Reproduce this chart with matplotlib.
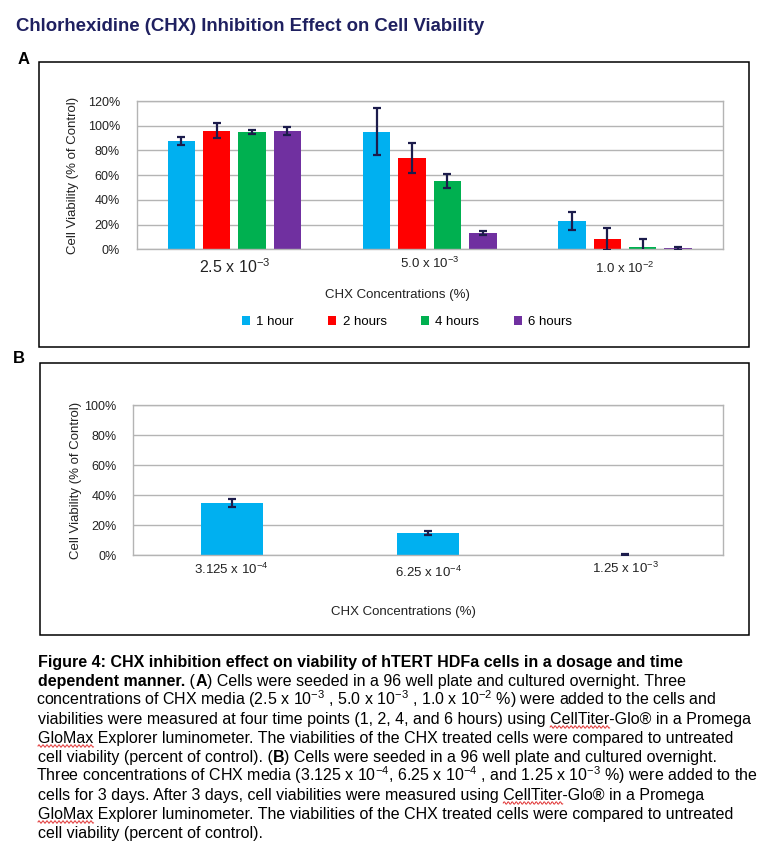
import matplotlib
matplotlib.use("Agg")
import matplotlib.pyplot as plt
from matplotlib.patches import Rectangle
from matplotlib.lines import Line2D
from matplotlib.transforms import IdentityTransform
from matplotlib.ticker import PercentFormatter
import numpy as np

# ---- data ----
conc_a = ["2.5 x 10$^{-3}$", "5.0 x 10$^{-3}$", "1.0 x 10$^{-2}$"]
hours = ["1 hour", "2 hours", "4 hours", "6 hours"]
viab_1h = [87.8, 95.1, 22.9]
viab_2h = [95.9, 74.0, 8.3]
viab_4h = [94.8, 55.4, 1.9]
viab_6h = [95.7, 13.2, 0.8]
err_1h = [3.0, 19.0, 7.0]
err_2h = [6.0, 12.3, 9.2]
err_4h = [1.5, 5.8, 6.4]
err_6h = [3.5, 1.7, 1.3]

conc_b = ["3.125 x 10$^{-4}$", "6.25 x 10$^{-4}$", "1.25 x 10$^{-3}$"]
viab_b = [34.9, 14.9, 0.4]
err_b = [2.4, 1.5, 0.2]

colors = ["#00B0F0", "#FF0000", "#00B050", "#7030A0"]
err_color = "#1C1C4C"
grid_color = "#B4B4B4"

W, H = 779, 863
plt.rcParams["font.family"] = ["Liberation Sans", "DejaVu Sans"]
plt.rcParams["mathtext.fontset"] = "custom"
plt.rcParams["mathtext.rm"] = "Liberation Sans"
plt.rcParams["mathtext.it"] = "Liberation Sans:italic"
plt.rcParams["mathtext.bf"] = "Liberation Sans:bold"

fig = plt.figure(figsize=(W / 100, H / 100), dpi=100)
px = IdentityTransform()


def fx(x):
    return x / W


def fy(y):
    return 1 - y / H


# title and panel letters
fig.text(fx(16), fy(31), "Chlorhexidine (CHX) Inhibition Effect on Cell Viability",
         fontsize=13.4, fontweight="bold", color="#1F2060", va="baseline")
fig.text(fx(18), fy(64), "A", fontsize=12, fontweight="bold", va="baseline")
fig.text(fx(13), fy(363), "B", fontsize=12, fontweight="bold", va="baseline")

# panel frames
fig.add_artist(Rectangle((fx(39.3), fy(347)), fx(749.3) - fx(39.3), fy(61.7) - fy(347),
                         transform=fig.transFigure, fill=False, ec="black", lw=1.1))
fig.add_artist(Rectangle((fx(40), fy(635.3)), fx(749.3) - fx(40), fy(362.7) - fy(635.3),
                         transform=fig.transFigure, fill=False, ec="black", lw=1.1))


def style_axes(ax, top):
    ax.set_ylim(0, top)
    ax.set_xlim(-0.5, 2.5)
    ax.yaxis.set_major_formatter(PercentFormatter(decimals=0))
    ax.set_yticks(np.arange(0, top + 1, 20))
    ax.grid(axis="y", color=grid_color, lw=1)
    ax.set_axisbelow(True)
    for s in ax.spines.values():
        s.set_color(grid_color)
        s.set_linewidth(1)
    ax.tick_params(length=0, labelsize=9, colors="#222222")
    ax.tick_params(axis="y", pad=12)
    ax.set_ylabel("Cell Viability (% of Control)", fontsize=9.5, color="#222222")


# ---- panel A ----
axA = fig.add_axes([fx(136.7), fy(249.3), fx(722.7) - fx(136.7), fy(101) - fy(249.3)])
x = np.arange(len(conc_a))
bw = 0.141
step = 0.181
series = [viab_1h, viab_2h, viab_4h, viab_6h]
errs = [err_1h, err_2h, err_4h, err_6h]
handles = []
for i, (v, e) in enumerate(zip(series, errs)):
    xs = x + (i - 1.5) * step
    b = axA.bar(xs, v, bw, color=colors[i], label=hours[i], zorder=2)
    axA.errorbar(xs, v, yerr=e, fmt="none", ecolor=err_color, elinewidth=1.6,
                 capsize=2.8, capthick=1.6, zorder=3)
    handles.append(b)
style_axes(axA, 120)
axA.yaxis.set_label_coords(-0.098, 0.5)
axA.set_xticks(x)
axA.set_xticklabels(conc_a)
axA.tick_params(axis="x", pad=6)
for lab, fs, dy in zip(axA.get_xticklabels(), [11.5, 9.5, 9.5], [0.0, 0.01, -0.02]):
    lab.set_fontsize(fs)
    lab.set_y(dy)
axA.set_xlabel("CHX Concentrations (%)", fontsize=9.5, color="#222222")
axA.xaxis.set_label_coords(0.445, -0.27)
fig.legend(handles=handles, labels=hours, loc="center", ncol=4,
           bbox_to_anchor=(fx(407), fy(322)), frameon=False, fontsize=9.5,
           handlelength=0.6, handleheight=0.6, handletextpad=0.5,
           columnspacing=2.6)

# ---- panel B ----
axB = fig.add_axes([fx(133.3), fy(555.3), fx(723.3) - fx(133.3), fy(405.3) - fy(555.3)])
axB.bar(x, viab_b, 0.314, color=colors[0], zorder=2)
axB.errorbar(x, viab_b, yerr=err_b, fmt="none", ecolor=err_color, elinewidth=1.6,
             capsize=2.8, capthick=1.6, zorder=3)
style_axes(axB, 100)
axB.yaxis.set_label_coords(-0.087, 0.5)
axB.set_xticks(x)
axB.set_xticklabels(conc_b, fontsize=9.5)
axB.tick_params(axis="x", pad=5)
for lab, dy in zip(axB.get_xticklabels(), [0.0, -0.02, 0.007]):
    lab.set_y(dy)
axB.set_xlabel("CHX Concentrations (%)", fontsize=9.5, color="#222222")
axB.xaxis.set_label_coords(0.458, -0.34)

# ---- caption ----
renderer = fig.canvas.get_renderer()
cap_fs = 11.5


def text_width(s, bold):
    t = fig.text(0, 0, s + "|", transform=px, fontsize=cap_fs,
                 fontweight="bold" if bold else "normal")
    w1 = t.get_window_extent(renderer).width
    t.set_text("|")
    w2 = t.get_window_extent(renderer).width
    t.remove()
    return w1 - w2


def squiggle(x0, x1, ybase):
    xs = np.arange(x0, x1 + 0.5, 0.5)
    ys = (H - ybase - 3) + 1.2 * np.sin((xs - x0) * np.pi / 2)
    fig.add_artist(Line2D(xs, ys, transform=px, color="#E03030", lw=0.7))


def caption_line(y, runs, marks=()):
    xpos = 38
    full = ""
    for s, bold in runs:
        # mathtext strings get a small left bearing; pull them back
        shift = 1.5 if "$" in s else 0
        fig.text(xpos - shift, H - y, s, transform=px, fontsize=cap_fs,
                 fontweight="bold" if bold else "normal", va="baseline")
        xpos += text_width(s, bold)
        full += s
    for word in marks:
        i = full.index(word)
        x0 = 38 + text_width(full[:i], False)
        squiggle(x0, x0 + text_width(word, False), y)


caption = [
    [("Figure 4: CHX inhibition effect on viability of hTERT HDFa cells in a dosage and time", True)],
    [("dependent manner.", True), (" (", False), ("A", True),
     (") Cells were seeded in a 96 well plate and cultured overnight. Three", False)],
    [("concentrations of CHX media (2.5 x 10$^{-3}$ , 5.0 x 10$^{-3}$ , 1.0 x 10$^{-2}$ %) were added to the cells and", False)],
    [("viabilities were measured at four time points (1, 2, 4, and 6 hours) using CellTiter-Glo\u00ae in a Promega", False)],
    [("GloMax Explorer luminometer. The viabilities of the CHX treated cells were compared to untreated", False)],
    [("cell viability (percent of control). (", False), ("B", True),
     (") Cells were seeded in a 96 well plate and cultured overnight.", False)],
    [("Three concentrations of CHX media (3.125 x 10$^{-4}$, 6.25 x 10$^{-4}$ , and 1.25 x 10$^{-3}$ %) were added to the", False)],
    [("cells for 3 days. After 3 days, cell viabilities were measured using CellTiter-Glo\u00ae in a Promega", False)],
    [("GloMax Explorer luminometer. The viabilities of the CHX treated cells were compared to untreated", False)],
    [("cell viability (percent of control).", False)],
]
underlined = [(), (), (), ("CellTiter",), ("GloMax",), (), (), ("CellTiter",), ("GloMax",), ()]
for k, runs in enumerate(caption):
    caption_line(667 + 19 * k, runs, underlined[k])

fig.savefig("out.png", dpi=100)
